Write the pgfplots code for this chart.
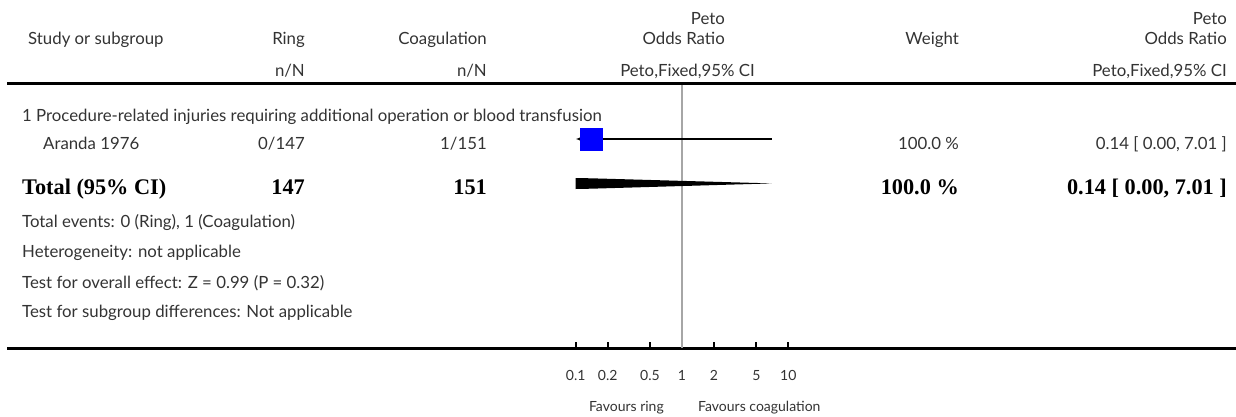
\documentclass[border=0pt]{standalone}
\usepackage{pgfplots}
\pgfplotsset{compat=1.18}
\usepackage{fontspec}
\setmainfont{Lato}
\newfontfamily\boldserif{Liberation Serif}
\usetikzlibrary{arrows.meta}
\newcommand\rf{\fontsize{16.8bp}{20bp}\selectfont}
\newcommand\sfn{\fontsize{14bp}{17bp}\selectfont}
\newcommand\bigbold{\boldserif\bfseries\fontsize{22.3bp}{26bp}\selectfont}
\definecolor{txt}{HTML}{333333}
\tikzset{t/.style={inner sep=0pt, font=\rf, text=txt},
  s/.style={inner sep=0pt, font=\sfn, text=txt},
  b/.style={inner sep=0pt, font=\bigbold, text=black}}
\begin{document}
\begin{tikzpicture}[x=1bp,y=1bp]
\useasboundingbox (0,0) rectangle (1236,416);
\begin{axis}[at={(0,0)}, anchor=south west, scale only axis,
  width=1236bp, height=416bp, xmin=0, xmax=1236, ymin=0, ymax=416,
  y dir=reverse, axis lines=none, clip=false]
% header
\node[t, anchor=base west] at (axis cs:28,44) {Study or subgroup};
\node[t, anchor=base east] at (axis cs:305,44) {Ring};
\node[t, anchor=base east] at (axis cs:305,76) {n/N};
\node[t, anchor=base east] at (axis cs:487,44) {Coagulation};
\node[t, anchor=base east] at (axis cs:487,76) {n/N};
\node[t, anchor=base east] at (axis cs:725,25) {Peto};
\node[t, anchor=base east] at (axis cs:725,44) {Odds Ratio};
\node[t, anchor=base east] at (axis cs:755,76) {Peto,Fixed,95\% CI};
\node[t, anchor=base east] at (axis cs:959,44) {Weight};
\node[t, anchor=base east] at (axis cs:1227,25) {Peto};
\node[t, anchor=base east] at (axis cs:1227,44) {Odds Ratio};
\node[t, anchor=base east] at (axis cs:1227,76) {Peto,Fixed,95\% CI};
\draw[line width=3bp] (axis cs:7,83) -- (axis cs:1236,83);
% rows
\node[t, anchor=base west] at (axis cs:22,121) {1 Procedure-related injuries requiring additional operation or blood transfusion};
\node[t, anchor=base west] at (axis cs:43,149) {Aranda 1976};
\node[t, anchor=base east] at (axis cs:305,149) {0/147};
\node[t, anchor=base east] at (axis cs:487,149) {1/151};
\node[t, anchor=base east] at (axis cs:959,149) {100.0 \%};
\node[t, anchor=base east] at (axis cs:1227,149) {0.14 [ 0.00, 7.01 ]};
\node[b, anchor=base west] at (axis cs:22,194) {Total (95\% CI)};
\node[b, anchor=base east] at (axis cs:305,194) {147};
\node[b, anchor=base east] at (axis cs:487,194) {151};
\node[b, anchor=base east] at (axis cs:959,194) {100.0 \%};
\node[b, anchor=base east] at (axis cs:1227,194) {0.14 [ 0.00, 7.01 ]};
\node[t, anchor=base west] at (axis cs:22,227) {Total events: 0 (Ring), 1 (Coagulation)};
\node[t, anchor=base west] at (axis cs:22,257) {Heterogeneity: not applicable};
\node[t, anchor=base west] at (axis cs:22,288) {Test for overall effect: Z = 0.99 (P = 0.32)};
\node[t, anchor=base west] at (axis cs:22,317) {Test for subgroup differences: Not applicable};
\draw[line width=3bp] (axis cs:7,348) -- (axis cs:1236,348);
\node[s, anchor=base east] at (axis cs:664,411) {Favours ring};
\node[s, anchor=base west] at (axis cs:698,411) {Favours coagulation};
\end{axis}
\begin{axis}[at={(575.7bp,68bp)}, anchor=south west, scale only axis,
  width=212.6bp, height=348bp, xmode=log, xmin=0.1, xmax=10,
  ymin=0, ymax=348, y dir=reverse, clip=false,
  axis x line*=bottom, hide y axis, x axis line style={draw=none},
  xtick={0.1,0.2,0.5,1,2,5,10}, xticklabels={}, xminorticks=false,
  tick align=inside, major tick length=6bp,
  every tick/.style={black, line width=2bp}]
\draw[color=black!35, line width=1.4bp] (axis cs:1,85) -- (axis cs:1,348);
\addplot[only marks, mark=square*, mark size=11bp, color=blue, mark options={fill=blue, draw=blue}] coordinates {(0.139,139)};
\addplot[black, line width=1.2bp, {Latex[length=5bp,width=4bp]}-] coordinates {(0.1,139) (7.01,139)};
\addplot[fill=black, draw=none] coordinates {(0.1,178) (0.139,178.3) (7.01,183.4) (0.139,188.7) (0.1,189)} -- cycle;
\node[s, anchor=base] at (axis cs:0.1,380) {0.1};
\node[s, anchor=base] at (axis cs:0.2,380) {0.2};
\node[s, anchor=base] at (axis cs:0.5,380) {0.5};
\node[s, anchor=base] at (axis cs:1,380) {1};
\node[s, anchor=base] at (axis cs:2,380) {2};
\node[s, anchor=base] at (axis cs:5,380) {5};
\node[s, anchor=base] at (axis cs:10,380) {10};
\end{axis}
\end{tikzpicture}
\end{document}
